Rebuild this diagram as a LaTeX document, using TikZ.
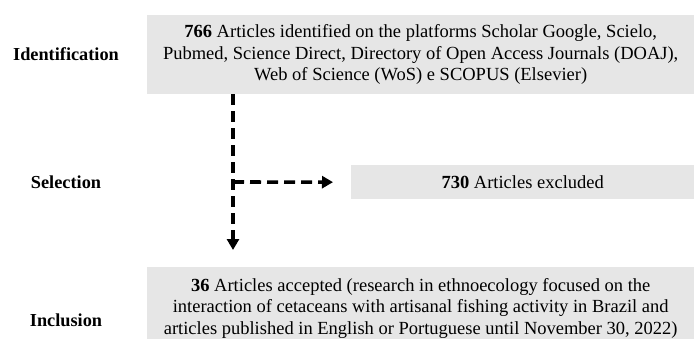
\documentclass[tikz,border=0pt]{standalone}
\usepackage{fontspec}
\setmainfont{Liberation Serif}
\usetikzlibrary{positioning, arrows.meta}
\definecolor{boxgray}{HTML}{E6E6E6}

\begin{document}
\begin{tikzpicture}[
    x=1pt, y=-1pt,
    stage/.style={font=\fontsize{18.3}{21}\selectfont\bfseries},
    box/.style={fill=boxgray, align=center, inner sep=0pt, font=\fontsize{18.5}{21.5}\selectfont},
    flow/.style={-{Triangle[length=11pt, width=12pt]}, line width=3.6pt, dash pattern=on 11pt off 6pt}
  ]
  \clip (0,0) rectangle (694,338);

  % boxes
  \node[box, anchor=north west, minimum width=547pt, minimum height=79pt] (ident) at (147,15)
    {\textbf{766} Articles identified on the platforms Scholar Google, Scielo,\\
     Pubmed, Science Direct, Directory of Open Access Journals (DOAJ),\\
     Web of Science (WoS) e SCOPUS (Elsevier)};
  \node[box, anchor=north west, minimum width=343pt, minimum height=34pt] (excl) at (351,165)
    {\textbf{730} Articles excluded};
  \node[box, anchor=north west, minimum width=547pt, minimum height=82pt] (incl) at (147,267)
    {\textbf{36} Articles accepted (research in ethnoecology focused on the\\
     interaction of cetaceans with artisanal fishing activity in Brazil and\\
     articles published in English or Portuguese until November 30, 2022)};

  % stage labels
  \node[stage] (lident) at (66,54) {Identification};
  \node[stage] (lsel) at (66,182) {Selection};
  \node[stage] (lincl) at (66,320) {Inclusion};

  % arrows
  \coordinate (split) at (233,182);
  \draw[flow, shorten >=17pt] (ident.south -| split) -- (incl.north -| split);
  \draw[flow, shorten >=18pt] (split) -- (excl.west);

\end{tikzpicture}
\end{document}
